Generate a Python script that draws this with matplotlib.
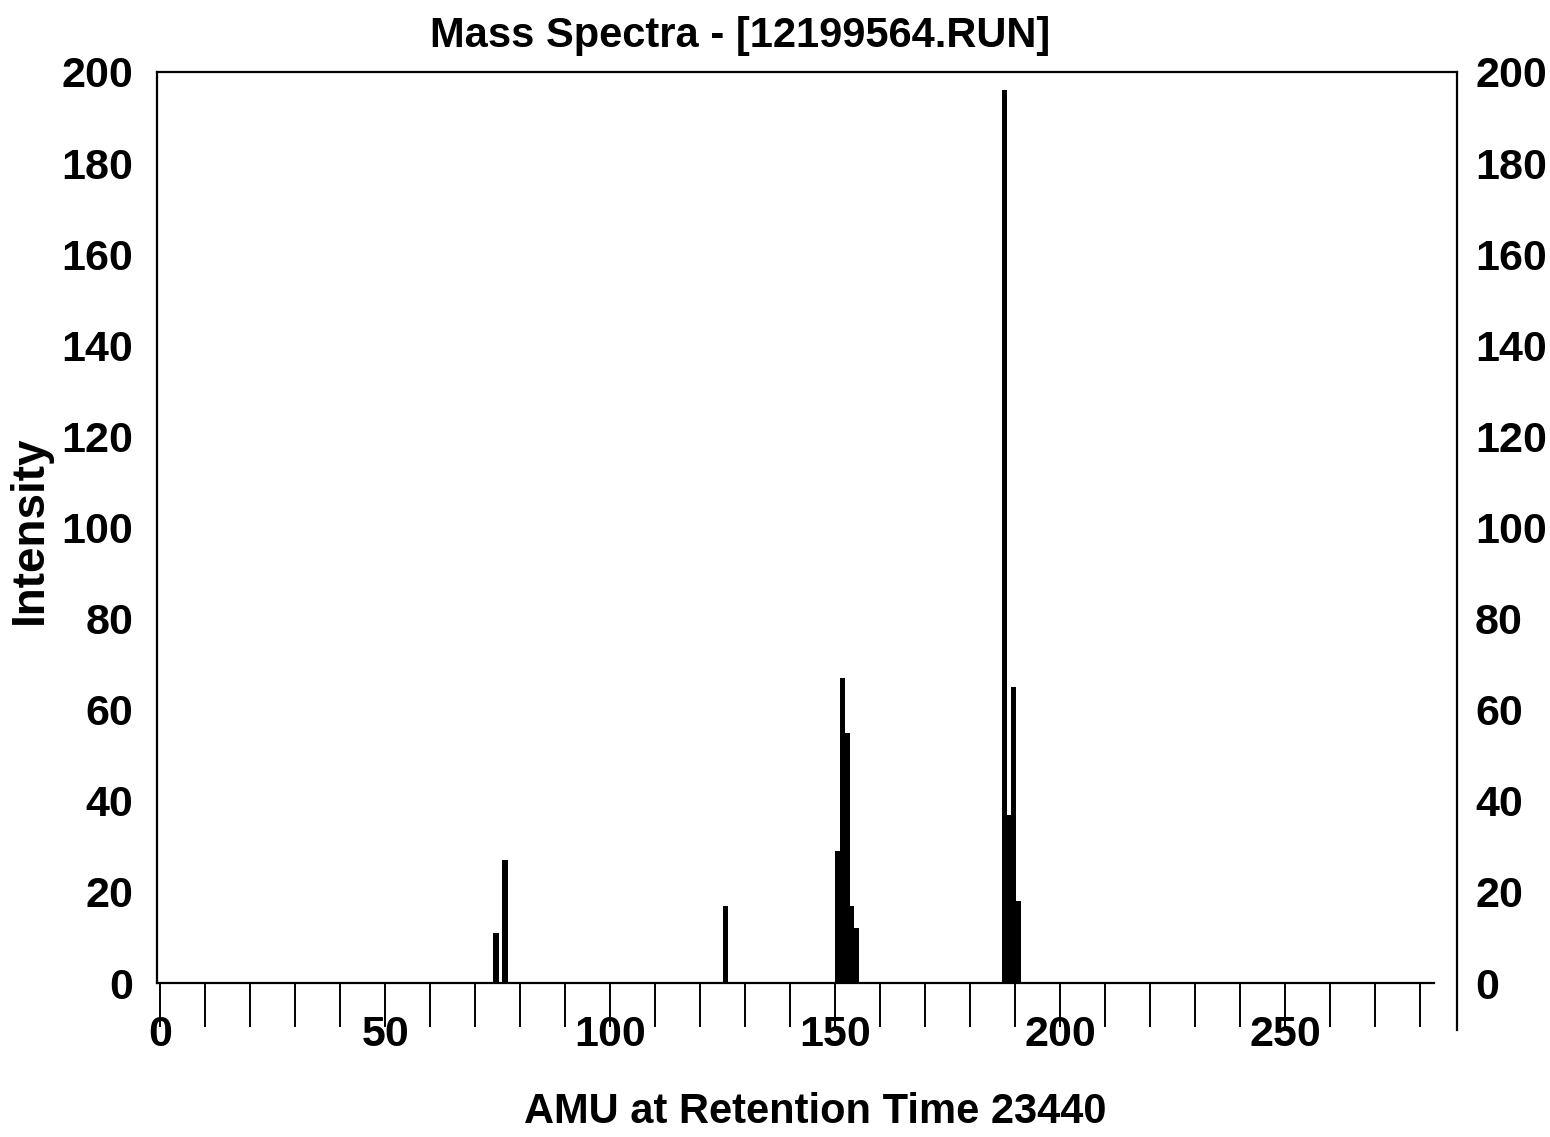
import matplotlib
matplotlib.use("Agg")
import matplotlib.pyplot as plt

# peaks (AMU, intensity)
masses = [74, 76, 125, 150, 151, 152, 153, 154, 187, 188, 189, 190]
intensity = [11, 27, 17, 29, 67, 55, 17, 12, 196, 37, 65, 18]

x_ticks = list(range(0, 290, 10))
x_labeled = [0, 50, 100, 150, 200, 250]
y_ticks = list(range(0, 201, 20))

title = "Mass Spectra - [12199564.RUN]"
xlabel = "AMU at Retention Time 23440"
ylabel = "Intensity"

plt.rcParams['font.family'] = ['Liberation Sans', 'DejaVu Sans']
plt.rcParams['font.weight'] = 'bold'

fig = plt.figure(figsize=(15.5, 11.37), dpi=100)
ax = fig.add_axes([157/1550, 1-1030/1137, 1300/1550, (1030-72)/1137])

ax.bar(masses, intensity, width=1.3, align='edge', color='black', linewidth=0)

ax.set_xlim(-0.7, 288.2)
ax.set_ylim(-10.3, 200)

ax.spines['bottom'].set_position(('data', 0))
ax.spines['bottom'].set_bounds(-0.7, 283)
ax.spines['left'].set_bounds(0, 200)
for s in ['bottom', 'left', 'top', 'right']:
    ax.spines[s].set_linewidth(1.6)

ax.set_xticks(x_ticks)
ax.set_xticklabels([str(t) if t in x_labeled else '' for t in x_ticks])
ax.tick_params(axis='x', direction='out', length=32, width=1.4, pad=-9, labelsize=31)

ax.set_yticks(y_ticks)
ax.tick_params(axis='y', length=0, pad=17, labelsize=31)

ax2 = ax.twinx()
ax2.set_ylim(ax.get_ylim())
ax2.set_yticks(y_ticks)
ax2.tick_params(axis='y', length=0, pad=13, labelsize=31)
for s in ax2.spines.values():
    s.set_visible(False)

fig.text(740/1550, 1-36/1137, title, ha='center', va='center', fontsize=30, fontweight='bold')
fig.text(815/1550, 1-1112/1137, xlabel, ha='center', va='center', fontsize=30, fontweight='bold')
fig.text(30/1550, 1-530/1137, ylabel, ha='center', va='center', rotation=90, fontsize=33, fontweight='bold')

fig.savefig('out.png', dpi=100)
